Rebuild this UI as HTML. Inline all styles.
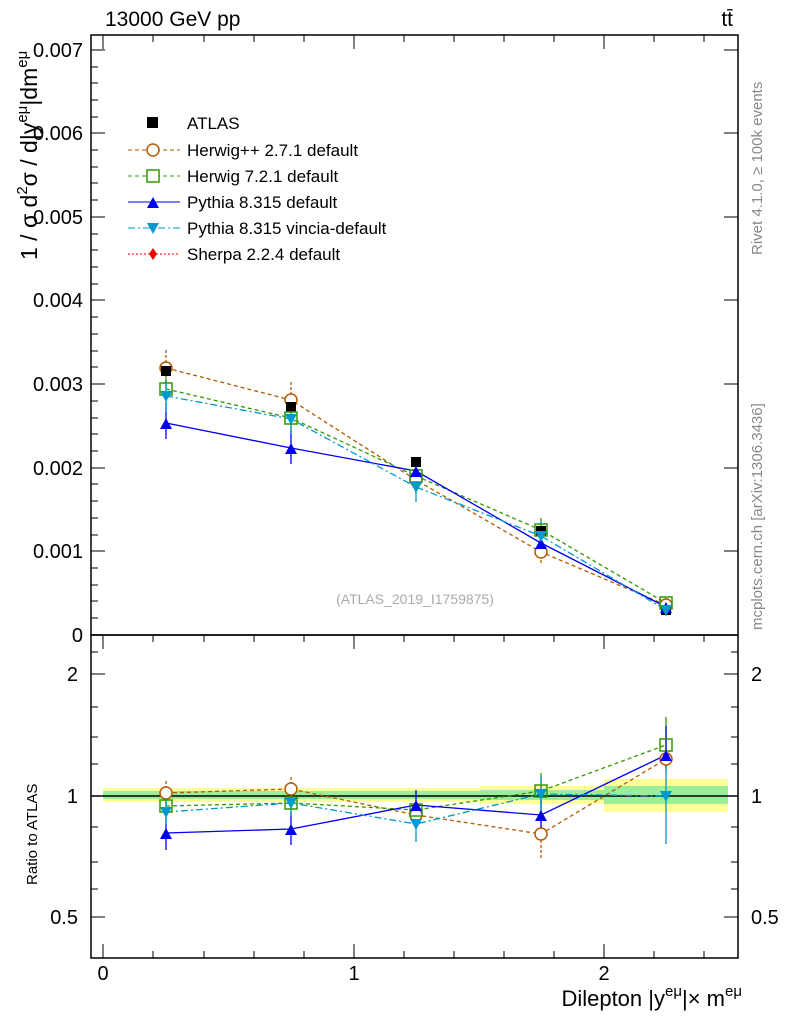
<!DOCTYPE html>
<html><head><meta charset="utf-8"><style>body{margin:0;background:#fff}svg{display:block;font-family:"Liberation Sans",sans-serif}</style></head>
<body>
<svg width="786" height="1024" viewBox="0 0 786 1024">
<rect x="103" y="788" width="377" height="14" fill="#ffff99"/>
<rect x="480" y="786" width="124" height="18" fill="#ffff99"/>
<rect x="604" y="779" width="124" height="33" fill="#ffff99"/>
<rect x="103" y="791" width="377" height="8" fill="#99ee99"/>
<rect x="480" y="790" width="124" height="10" fill="#99ee99"/>
<rect x="604" y="786" width="124" height="18" fill="#99ee99"/>
<line x1="91" y1="796" x2="738" y2="796" stroke="#000" stroke-width="1.5"/>

<rect x="91" y="35" width="647" height="600" fill="none" stroke="#000" stroke-width="1.5"/>
<rect x="91" y="635" width="647" height="323" fill="none" stroke="#000" stroke-width="1.5"/>

<g stroke="#000" stroke-width="1">
<path d="M91 635h14M91 551h14M91 468h14M91 384h14M91 300h14M91 217h14M91 133h14M91 50h14"/>
<path d="M738 635h-14M738 551h-14M738 468h-14M738 384h-14M738 300h-14M738 217h-14M738 133h-14M738 50h-14"/>
<path d="M91 618h7M91 601h7M91 585h7M91 568h7M91 535h7M91 518h7M91 501h7M91 484h7M91 451h7M91 434h7M91 418h7M91 401h7M91 367h7M91 351h7M91 334h7M91 317h7M91 284h7M91 267h7M91 250h7M91 234h7M91 200h7M91 183h7M91 167h7M91 150h7M91 117h7M91 100h7M91 83h7M91 67h7"/>
<path d="M103 35v14M354 35v14M604 35v14M153 35v7M204 35v7M254 35v7M304 35v7M404 35v7M454 35v7M504 35v7M554 35v7M654 35v7M704 35v7"/>
<path d="M103 958v-14M354 958v-14M604 958v-14M153 958v-7M204 958v-7M254 958v-7M304 958v-7M404 958v-7M454 958v-7M504 958v-7M554 958v-7M654 958v-7M704 958v-7"/>
<path d="M103 635v14M354 635v14M604 635v14M153 635v7M204 635v7M254 635v7M304 635v7M404 635v7M454 635v7M504 635v7M554 635v7M654 635v7M704 635v7"/>
<path d="M91 674h14M91 796h14M91 917h14M738 674h-14M738 796h-14M738 917h-14"/>
<path d="M91 652h7M91 707h7M91 737h7M91 764h7M91 827h7M91 862h7M91 889h7M738 652h-7M738 707h-7M738 737h-7M738 764h-7M738 827h-7M738 862h-7M738 889h-7"/>
</g>
<g font-size="20" text-anchor="end">
<text x="83" y="642">0</text><text x="83" y="558">0.001</text><text x="83" y="475">0.002</text><text x="83" y="391">0.003</text><text x="83" y="307">0.004</text><text x="83" y="224">0.005</text><text x="83" y="140">0.006</text><text x="83" y="57">0.007</text>
<text x="78" y="681">2</text><text x="78" y="803">1</text><text x="78" y="924">0.5</text>
</g>
<g font-size="20"><text x="751" y="681">2</text><text x="751" y="803">1</text><text x="751" y="924">0.5</text></g>
<g font-size="20" text-anchor="middle"><text x="103" y="980">0</text><text x="354" y="980">1</text><text x="604" y="980">2</text></g>
<text x="105" y="26" font-size="21">13000 GeV pp</text>
<text x="733" y="26" font-size="21" text-anchor="end">tt̄</text>
<text x="742" y="1006" font-size="22" text-anchor="end">Dilepton |y<tspan font-size="15" dy="-10">eμ</tspan><tspan dy="10">|× m</tspan><tspan font-size="15" dy="-10">eμ</tspan></text>
<text transform="translate(37,260) rotate(-90)" font-size="23">1 / σ  d<tspan font-size="15" dy="-10">2</tspan><tspan dy="10">σ / d|y</tspan><tspan font-size="15" dy="-10">eμ</tspan><tspan dy="10">|dm</tspan><tspan font-size="15" dy="-10">eμ</tspan></text>
<text transform="translate(37,885) rotate(-90)" font-size="15">Ratio to ATLAS</text>
<text transform="translate(762,255) rotate(-90)" font-size="15" fill="#888">Rivet 4.1.0, ≥ 100k events</text>
<text transform="translate(762,630) rotate(-90)" font-size="15" fill="#888">mcplots.cern.ch [arXiv:1306.3436]</text>
<text x="415" y="604" font-size="14" fill="#aaa" text-anchor="middle">(ATLAS_2019_I1759875)</text>

<g font-size="17">
<rect x="147" y="117" width="11" height="11"/><text x="187" y="129">ATLAS</text>
<path d="M128 150h52" stroke="#b35900" stroke-dasharray="4,3"/><circle cx="153" cy="150" r="6" fill="#fff" stroke="#b35900" stroke-width="1.5"/><text x="187" y="156">Herwig++ 2.7.1 default</text>
<path d="M128 176h52" stroke="#339900" stroke-dasharray="4,3"/><rect x="147" y="170" width="12" height="12" fill="#fff" stroke="#339900" stroke-width="1.5"/><text x="187" y="182">Herwig 7.2.1 default</text>
<path d="M128 202h52" stroke="#0000ee"/><path d="M147 208l6-11 6 11z" fill="#0000ee"/><text x="187" y="208">Pythia 8.315 default</text>
<path d="M128 228h52" stroke="#0099cc" stroke-dasharray="7,3,2,3"/><path d="M147 223l6 11 6-11z" fill="#0099cc"/><text x="187" y="234">Pythia 8.315 vincia-default</text>
<path d="M128 254h52" stroke="#ee0000" stroke-dasharray="2,2"/><path d="M153 248l4 6-4 6-4-6z" fill="#ee0000"/><text x="187" y="260">Sherpa 2.2.4 default</text>
</g>

<g fill="none" stroke-width="1.3">
<path d="M166 368L291 400L416 480L541 552L666 605" stroke="#b35900" stroke-dasharray="4,3"/>
<path d="M166 350v36M291 382v36M416 466v28M541 540v24M666 599v12" stroke="#b35900" stroke-dasharray="3,2"/>
<path d="M166 389L291 418L416 476L541 530L666 603" stroke="#339900" stroke-dasharray="4,3"/>
<path d="M166 378v22M291 404v28M416 464v24M541 518v24M666 598v10" stroke="#339900"/>
<path d="M166 423L291 448L416 471L541 543L666 607" stroke="#0000ee"/>
<path d="M166 403v36M291 430v34M416 458v26M541 530v26M666 600v14" stroke="#0000ee"/>
<path d="M166 396L291 419L416 487L541 536L666 610" stroke="#0099cc" stroke-dasharray="7,3,2,3"/>
<path d="M166 380v32M291 404v30M416 472v30M541 522v28M666 604v12" stroke="#0099cc"/>
</g>
<g>
<circle cx="166" cy="368" r="6" fill="#fff" stroke="#b35900" stroke-width="1.5"/><circle cx="291" cy="400" r="6" fill="#fff" stroke="#b35900" stroke-width="1.5"/><circle cx="416" cy="480" r="6" fill="#fff" stroke="#b35900" stroke-width="1.5"/><circle cx="541" cy="552" r="6" fill="#fff" stroke="#b35900" stroke-width="1.5"/><circle cx="666" cy="605" r="6" fill="#fff" stroke="#b35900" stroke-width="1.5"/>
<g fill="#000"><rect x="161" y="366" width="10" height="10"/><rect x="286" y="402" width="10" height="10"/><rect x="411" y="457" width="10" height="10"/><rect x="536" y="526" width="10" height="10"/><rect x="661" y="605" width="10" height="10"/></g>
<g fill="none" stroke="#339900" stroke-width="1.5"><rect x="160" y="383" width="12" height="12"/><rect x="285" y="412" width="12" height="12"/><rect x="410" y="470" width="12" height="12"/><rect x="535" y="524" width="12" height="12"/><rect x="660" y="597" width="12" height="12"/></g>
<g fill="#0000ee"><path d="M160 429l6-11 6 11z"/><path d="M285 454l6-11 6 11z"/><path d="M410 477l6-11 6 11z"/><path d="M535 549l6-11 6 11z"/><path d="M660 613l6-11 6 11z"/></g>
<g fill="#0099cc"><path d="M160 391l6 11 6-11z"/><path d="M285 414l6 11 6-11z"/><path d="M410 482l6 11 6-11z"/><path d="M535 531l6 11 6-11z"/><path d="M660 605l6 11 6-11z"/></g>
</g>

<g fill="none" stroke-width="1.3">
<path d="M166 793L291 789L416 815L541 834L666 759" stroke="#b35900" stroke-dasharray="4,3"/>
<path d="M166 781v24M291 777v24M416 805v20M541 820v38M666 748v24" stroke="#b35900" stroke-dasharray="3,2"/>
<path d="M166 806L291 803L416 810L541 791L666 745" stroke="#339900" stroke-dasharray="4,3"/>
<path d="M166 796v20M291 791v24M416 800v20M541 773v36M666 717v44" stroke="#339900"/>
<path d="M166 833L291 829L416 805L541 815L666 755" stroke="#0000ee"/>
<path d="M166 816v34M291 813v32M416 790v28M541 800v30M666 726v42" stroke="#0000ee"/>
<path d="M166 812L291 803L416 824L541 794L666 796" stroke="#0099cc" stroke-dasharray="7,3,2,3"/>
<path d="M166 800v24M291 790v26M416 806v36M541 776v36M666 764v80" stroke="#0099cc"/>
</g>
<g>
<g fill="#fff" stroke="#b35900" stroke-width="1.5"><circle cx="166" cy="793" r="6"/><circle cx="291" cy="789" r="6"/><circle cx="416" cy="815" r="6"/><circle cx="541" cy="834" r="6"/><circle cx="666" cy="759" r="6"/></g>
<g fill="none" stroke="#339900" stroke-width="1.5"><rect x="160" y="800" width="12" height="12"/><rect x="285" y="797" width="12" height="12"/><rect x="410" y="804" width="12" height="12"/><rect x="535" y="785" width="12" height="12"/><rect x="660" y="739" width="12" height="12"/></g>
<g fill="#0000ee"><path d="M160 839l6-11 6 11z"/><path d="M285 835l6-11 6 11z"/><path d="M410 811l6-11 6 11z"/><path d="M535 821l6-11 6 11z"/><path d="M660 761l6-11 6 11z"/></g>
<g fill="#0099cc"><path d="M160 807l6 11 6-11z"/><path d="M285 798l6 11 6-11z"/><path d="M410 819l6 11 6-11z"/><path d="M535 789l6 11 6-11z"/><path d="M660 791l6 11 6-11z"/></g>
</g>
</svg>
</body></html>
